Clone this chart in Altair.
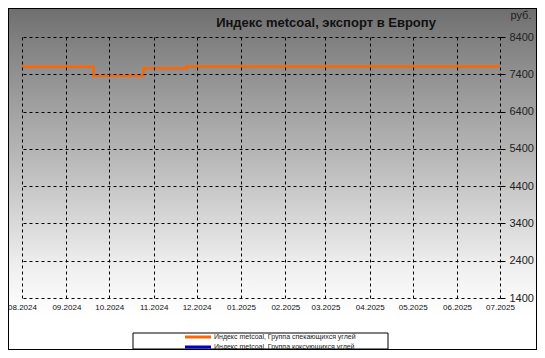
import altair as alt
import pandas as pd

# ---- data ----
dates = ["2024-08-01", "2024-09-20", "2024-10-25", "2024-11-24", "2025-07-01"]
values = [7600, 7360, 7565, 7610, 7610]
series_names = [
    "Индекс  metcoal, Группа спекающихся углей",
    "Индекс  metcoal, Группа коксующихся углей",
]
series_colors = ["#ff6600", "#0000cc"]
y_ticks = [1400, 2400, 3400, 4400, 5400, 6400, 7400, 8400]
x_months = [(2024, 8), (2024, 9), (2024, 10), (2024, 11), (2024, 12), (2025, 1),
            (2025, 2), (2025, 3), (2025, 4), (2025, 5), (2025, 6), (2025, 7)]

df = pd.DataFrame({"date": dates, "value": values, "series": series_names[0]})

W, H = 478, 261
PL, PT, PR, PB = 14, 29, 37, 52
FONT = "Liberation Sans"

def dt(y, m):
    return alt.DateTime(year=y, month=m, date=1, utc=True)

grad = alt.Gradient(
    gradient="linear", x1=0, x2=0, y1=0, y2=1,
    stops=[
        alt.GradientStop(color="#6e6e6e", offset=0),
        alt.GradientStop(color="#858585", offset=0.12),
        alt.GradientStop(color="#bababa", offset=0.45),
        alt.GradientStop(color="#eeeeee", offset=0.75),
        alt.GradientStop(color="#ffffff", offset=0.9),
        alt.GradientStop(color="#ffffff", offset=1),
    ],
)

bg = alt.Chart(pd.DataFrame({"a": [0]})).mark_rect(
    fill=grad, stroke="black", strokeWidth=2
).encode(
    x=alt.value(-PL), x2=alt.value(W + PR),
    y=alt.value(-PT), y2=alt.value(H + PB),
)

legend_box = alt.Chart(pd.DataFrame({"a": [0]})).mark_rect(
    filled=False, stroke="black", strokeWidth=1
).encode(
    x=alt.value(111), x2=alt.value(366),
    y=alt.value(296), y2=alt.value(312),
)

line = alt.Chart(df).mark_line(
    interpolate="step-after", strokeWidth=2.5
).encode(
    x=alt.X(
        "date:T",
        scale=alt.Scale(type="utc", domain=[dt(2024, 8), dt(2025, 7)]),
        axis=alt.Axis(
            values=[dt(y, m) for y, m in x_months],
            labelExpr="utcFormat(datum.value, '%m.%Y')", title=None,
            ticks=False, labelPadding=5, labelFontSize=8, labelColor="#111",
            labelFont=FONT, labelOverlap=False, labelFlush=False,
            grid=True, gridDash=[3, 3], gridColor="black", gridOpacity=1,
            domain=False, zindex=1,
        ),
    ),
    y=alt.Y(
        "value:Q",
        scale=alt.Scale(domain=[1400, 8400], nice=False, zero=False),
        axis=alt.Axis(
            orient="right", values=y_ticks, format="d",
            title="руб.", titleAngle=0, titleX=10, titleY=-22,
            titleAlign="left", titleBaseline="middle", titleFontWeight="normal",
            titleFontSize=11, titleFont=FONT, titleColor="#222",
            tickSize=5, tickColor="black", labelFontSize=11, labelPadding=4,
            labelColor="#222", labelFont=FONT,
            grid=True, gridDash=[3, 3], gridColor="black", gridOpacity=1,
            domain=False, zindex=1,
        ),
    ),
    color=alt.Color(
        "series:N",
        scale=alt.Scale(domain=series_names, range=series_colors),
        legend=alt.Legend(
            orient="none", legendX=172, legendY=296, title=None,
            symbolType="M-5.2,0L5.2,0", symbolSize=25, symbolStrokeWidth=3,
            labelFontSize=7, labelFont=FONT, labelColor="#222", labelOffset=12,
            rowPadding=-6, padding=0, direction="vertical", labelLimit=400,
        ),
    ),
)

chart = alt.layer(bg, legend_box, line).properties(
    width=W, height=H,
    autosize=alt.AutoSizeParams(type="none"),
    padding={"left": PL, "top": PT, "right": PR, "bottom": PB},
    title=alt.Title(
        "Индекс metcoal, экспорт в Европу", fontSize=13, fontWeight="bold",
        font=FONT, color="#111", anchor="middle", dx=65, offset=9, dy=42,
        baseline="alphabetic",
    ),
).configure(background="white").configure_view(stroke="black", strokeWidth=1)

chart.save("out.html", embed_options={"renderer": "svg", "actions": False})
